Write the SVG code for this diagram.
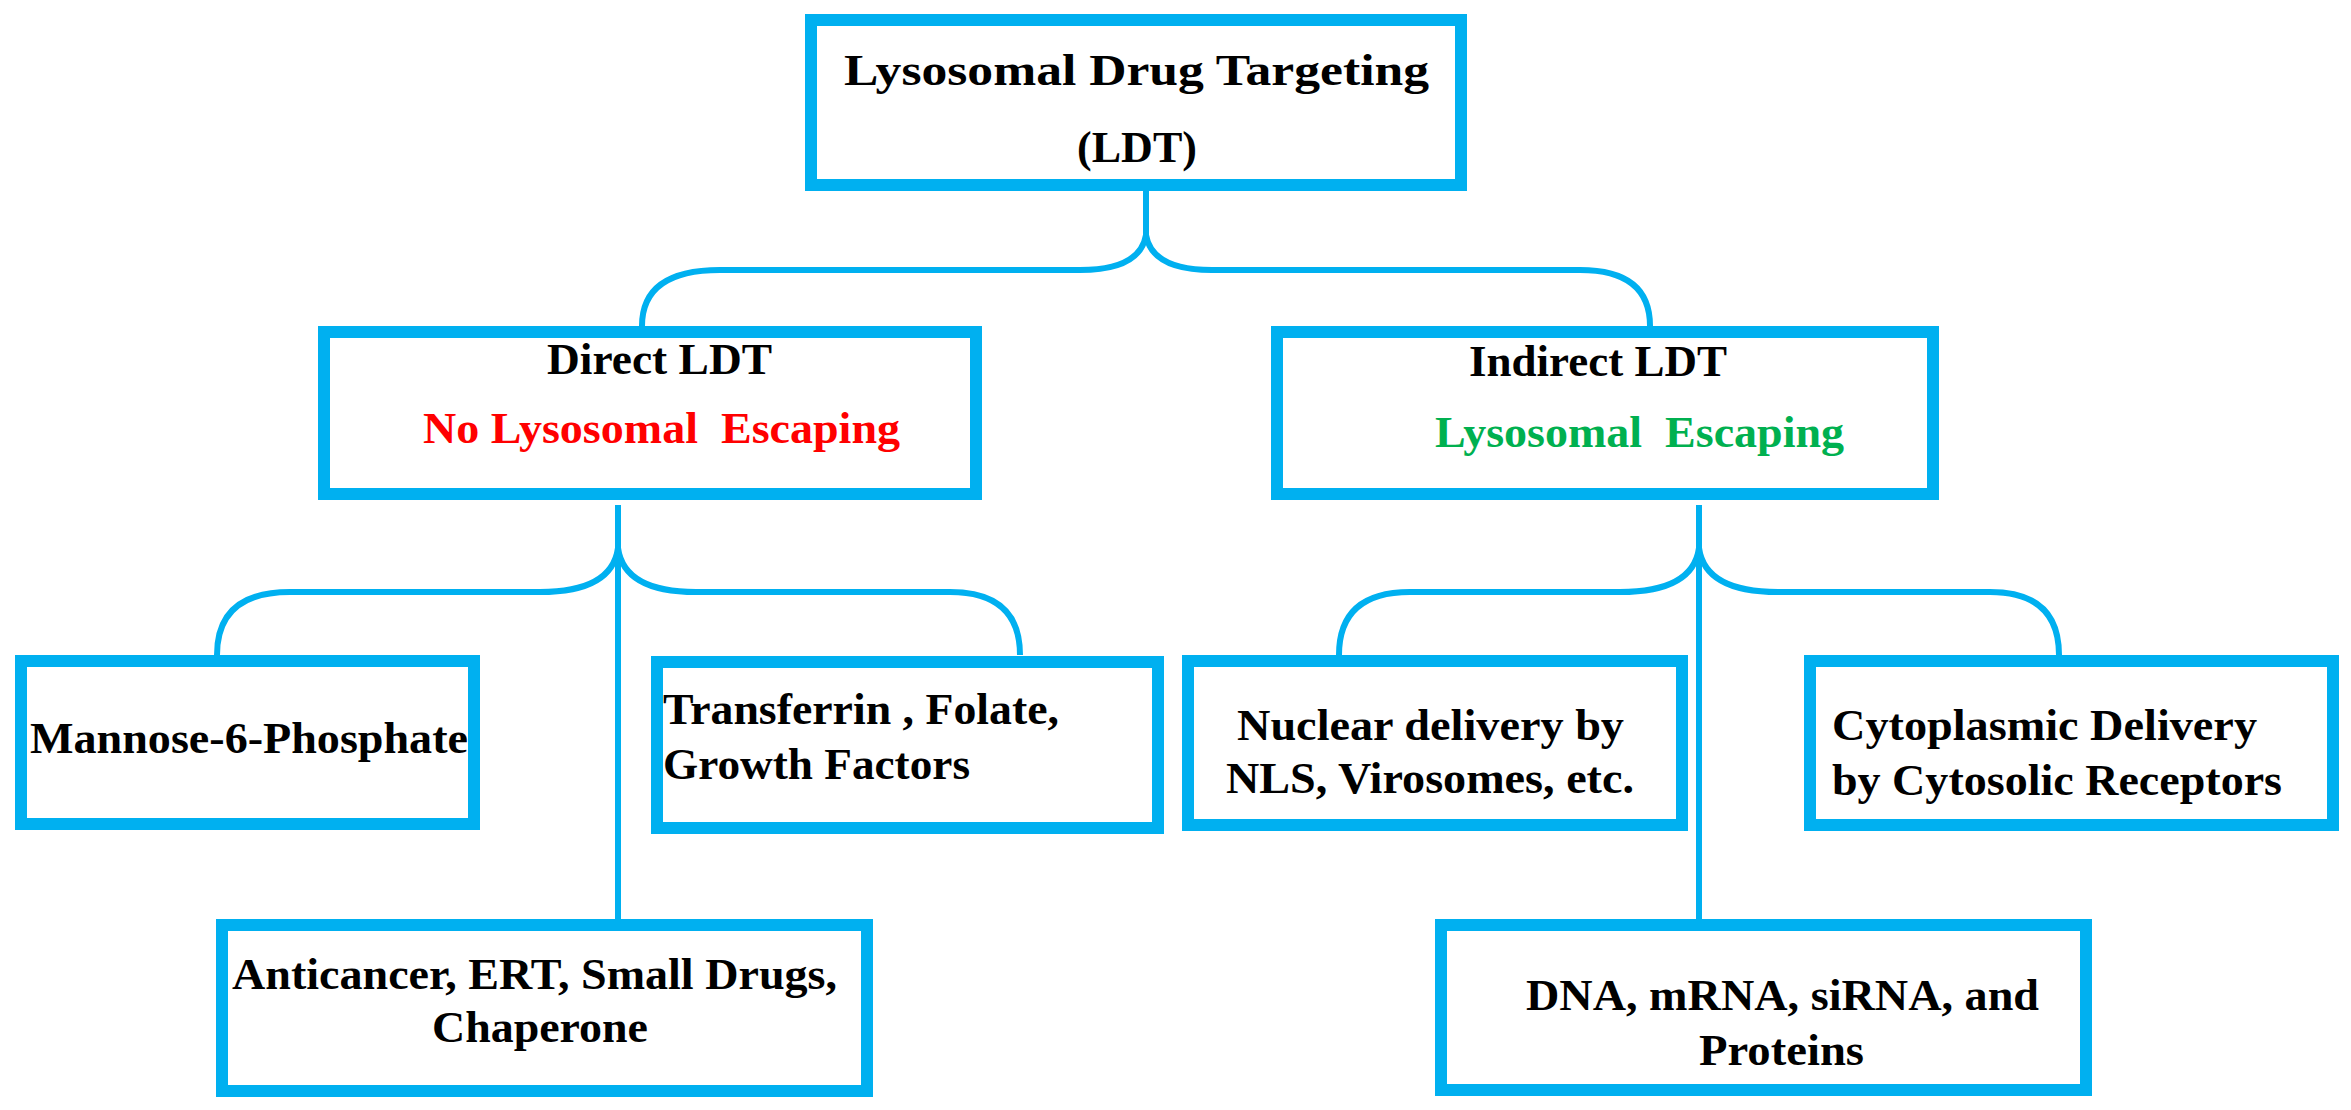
<svg xmlns="http://www.w3.org/2000/svg" width="2351" height="1110" viewBox="0 0 2351 1110">
<style>
.box{fill:#fff;stroke:#00B0F0;stroke-width:12}
.con{fill:none;stroke:#00B0F0;stroke-width:6}
text{font-family:"Liberation Serif","Times New Roman",serif;font-weight:bold;font-size:44px;fill:#000}
.red{fill:#FF0000}.green{fill:#00B050}
</style>
<rect width="2351" height="1110" fill="#fff"/>
<g id="connectors">
<path class="con" d="M1146 191 V235 Q1140 270 1080 270 H720 Q642 270 642 326"/>
<path class="con" d="M1146 235 Q1152 270 1212 270 H1580 Q1650 270 1650 326"/>
<path class="con" d="M618 505 V919"/>
<path class="con" d="M618 548 Q612 592 540 592 H290 Q217 592 217 655"/>
<path class="con" d="M618 548 Q624 592 696 592 H950 Q1020 592 1020 655"/>
<path class="con" d="M1699 505 V919"/>
<path class="con" d="M1699 548 Q1693 592 1620 592 H1410 Q1339 592 1339 655"/>
<path class="con" d="M1699 548 Q1705 592 1778 592 H1990 Q2059 592 2059 655"/>
</g>
<g id="top"><rect class="box" x="811" y="20" width="650" height="165"/>
<text x="844" y="85" textLength="585" lengthAdjust="spacingAndGlyphs" font-size="48">Lysosomal Drug Targeting</text>
<text x="1137" y="162" text-anchor="middle" font-size="48">(LDT)</text></g>
<g id="direct"><rect class="box" x="324" y="332" width="652" height="162"/>
<text x="547" y="374" textLength="225" lengthAdjust="spacingAndGlyphs">Direct LDT</text>
<text class="red" x="423" y="443" textLength="477" lengthAdjust="spacingAndGlyphs" xml:space="preserve">No Lysosomal  Escaping</text></g>
<g id="indirect"><rect class="box" x="1277" y="332" width="656" height="162"/>
<text x="1469" y="376" textLength="258" lengthAdjust="spacingAndGlyphs">Indirect LDT</text>
<text class="green" x="1435" y="447" textLength="409" lengthAdjust="spacingAndGlyphs" xml:space="preserve">Lysosomal  Escaping</text></g>
<g id="mannose"><rect class="box" x="21" y="661" width="453" height="163"/>
<text x="30" y="753" textLength="438" lengthAdjust="spacingAndGlyphs">Mannose-6-Phosphate</text></g>
<g id="transferrin"><rect class="box" x="657" y="662" width="501" height="166"/>
<text x="663" y="724" textLength="396" lengthAdjust="spacingAndGlyphs">Transferrin , Folate,</text>
<text x="663" y="779" textLength="307" lengthAdjust="spacingAndGlyphs">Growth Factors</text></g>
<g id="nuclear"><rect class="box" x="1188" y="661" width="494" height="164"/>
<text x="1237" y="740" textLength="387" lengthAdjust="spacingAndGlyphs">Nuclear delivery by</text>
<text x="1226" y="793" textLength="408" lengthAdjust="spacingAndGlyphs">NLS, Virosomes, etc.</text></g>
<g id="cytoplasmic"><rect class="box" x="1810" y="661" width="523" height="164"/>
<text x="1832" y="740" textLength="425" lengthAdjust="spacingAndGlyphs">Cytoplasmic Delivery</text>
<text x="1832" y="795" textLength="450" lengthAdjust="spacingAndGlyphs">by Cytosolic Receptors</text></g>
<g id="anticancer"><rect class="box" x="222" y="925" width="645" height="166"/>
<text x="232" y="989" textLength="605" lengthAdjust="spacingAndGlyphs">Anticancer, ERT, Small Drugs,</text>
<text x="432" y="1042" textLength="216" lengthAdjust="spacingAndGlyphs">Chaperone</text></g>
<g id="dna"><rect class="box" x="1441" y="925" width="645" height="165"/>
<text x="1526" y="1010" textLength="513" lengthAdjust="spacingAndGlyphs">DNA, mRNA, siRNA, and</text>
<text x="1699" y="1065" textLength="165" lengthAdjust="spacingAndGlyphs">Proteins</text></g>
</svg>
